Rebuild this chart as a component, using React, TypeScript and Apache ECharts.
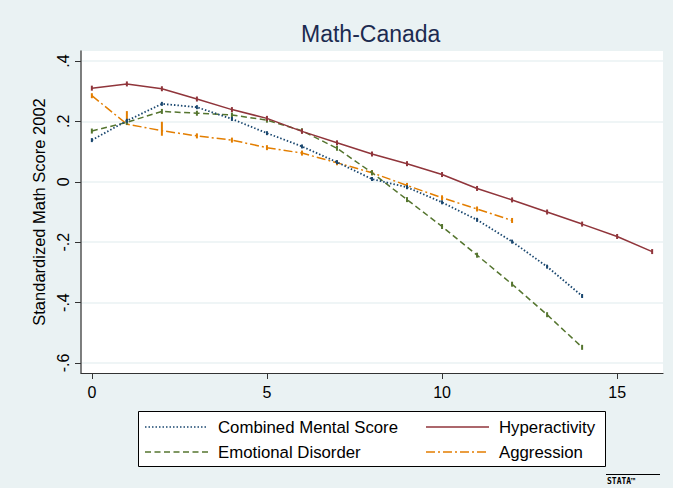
import React, { useEffect, useRef } from "react";
import * as echarts from "echarts";

const xValues = [0, 1, 2, 3, 4, 5, 6, 7, 8, 9, 10, 11, 12, 13, 14, 15, 16];
const combined = [0.138, 0.202, 0.258, 0.247, 0.208, 0.161, 0.117, 0.065, 0.009, -0.018, -0.068, -0.126, -0.198, -0.281, -0.378];
const hyperactivity = [0.31, 0.324, 0.308, 0.274, 0.239, 0.21, 0.167, 0.129, 0.092, 0.06, 0.024, -0.022, -0.06, -0.1, -0.14, -0.181, -0.231];
const emotional = [0.168, 0.197, 0.233, 0.227, 0.221, 0.204, 0.169, 0.111, 0.03, -0.059, -0.148, -0.243, -0.339, -0.44, -0.548];
const aggression = [0.285, 0.191, 0.169, 0.152, 0.138, 0.113, 0.095, 0.063, 0.03, -0.012, -0.053, -0.09, -0.128];

const xTicks = [0, 5, 10, 15];
const yTicks = [-0.6, -0.4, -0.2, 0, 0.2, 0.4];
const yTickLabels = ["-.6", "-.4", "-.2", "0", ".2", ".4"];
const seriesNames = ["Combined Mental Score", "Hyperactivity", "Emotional Disorder", "Aggression"];
const colors = ["#1a476f", "#90353b", "#55752f", "#e37e00"];
const dashes: any[] = [[1.5, 2], null, [6, 3.5], [9, 3, 2, 3]];

const FONT = "'Liberation Sans', Arial, sans-serif";

export default function App() {
  const ref = useRef<HTMLDivElement>(null);
  useEffect(() => {
    if (!ref.current) return;
    const chart = echarts.init(ref.current, undefined, { renderer: "svg" });
    const pairs = (arr: number[]) => arr.map((v, i) => [xValues[i], v]);
    const aggData: any[] = pairs(aggression).map((p, i) => {
      if (i === 1) return { value: p, symbolSize: [2, 14], symbolOffset: [0, -6] };
      if (i === 2) return { value: p, symbolSize: [2, 14], symbolOffset: [0, -2] };
      return p;
    });
    const datasets = [pairs(combined), pairs(hyperactivity), pairs(emotional), aggData];
    const series = seriesNames.map((name, k) => ({
      name,
      type: "line",
      data: datasets[k],
      symbol: "rect",
      symbolSize: k === 0 ? [2, 4] : [2, 5],
      showSymbol: true,
      itemStyle: { color: colors[k] },
      lineStyle: {
        color: colors[k],
        width: k === 0 ? 1.8 : 1.5,
        type: dashes[k] ? dashes[k] : "solid",
      },
      z: 10 - k,
    }));

    const legendX1 = 145, legendX2 = 426, lineLen = 63;
    const rowY = [427, 452];
    const legendEls: any[] = [
      {
        type: "rect",
        shape: { x: 138.5, y: 411.5, width: 467, height: 55 },
        style: { fill: "#ffffff", stroke: "#000000", lineWidth: 1 },
      },
    ];
    seriesNames.forEach((name, k) => {
      const col = k % 2;
      const row = Math.floor(k / 2);
      const lx = col === 0 ? legendX1 : legendX2;
      const y = rowY[row];
      legendEls.push({
        type: "line",
        shape: { x1: lx, y1: y, x2: lx + lineLen, y2: y },
        style: {
          stroke: colors[k],
          lineWidth: 1.5,
          lineDash: dashes[k] ? dashes[k] : undefined,
        },
      });
      legendEls.push({
        type: "text",
        x: lx + lineLen + 10,
        y,
        style: {
          text: name,
          fill: "#000000",
          font: `16.8px ${FONT}`,
          verticalAlign: "middle",
          textAlign: "left",
        },
      });
    });
    legendEls.push({
      type: "line",
      shape: { x1: 606, y1: 474.5, x2: 660, y2: 474.5 },
      style: { stroke: "#000", lineWidth: 1 },
    });
    legendEls.push({
      type: "text",
      x: 607,
      y: 481,
      style: {
        text: "STATA™",
        fill: "#000",
        font: `bold 8px 'DejaVu Sans Mono', monospace`,
        verticalAlign: "middle",
        textAlign: "left",
      },
    });

    chart.setOption({
      animation: false,
      backgroundColor: "#eaf2f3",
      textStyle: { fontFamily: FONT },
      title: {
        text: "Math-Canada",
        left: 301,
        top: 22,
        padding: 0,
        textStyle: { fontSize: 23, fontWeight: "normal", color: "#1c2b50", fontFamily: FONT },
      },
      grid: {
        left: 81,
        right: 10,
        top: 51,
        bottom: 115,
        show: true,
        backgroundColor: "#ffffff",
        borderWidth: 0,
      },
      xAxis: {
        type: "value",
        min: -0.31,
        max: 16.31,
        axisLine: { show: true, onZero: false, lineStyle: { color: "#333", width: 1.2 } },
        axisTick: { show: true, length: 6, customValues: xTicks, lineStyle: { color: "#333" } },
        axisLabel: { customValues: xTicks, fontSize: 16, color: "#000", margin: 11, fontFamily: FONT },
        splitLine: { show: false },
      },
      yAxis: {
        type: "value",
        min: -0.633,
        max: 0.433,
        name: "Standardized Math Score 2002",
        nameLocation: "middle",
        nameRotate: 90,
        nameGap: 28,
        nameTextStyle: { fontSize: 16.5, color: "#000", fontFamily: FONT },
        axisLine: { show: true, onZero: false, lineStyle: { color: "#555", width: 1.5 } },
        axisTick: { show: true, length: 6, customValues: yTicks, lineStyle: { color: "#333" } },
        axisLabel: {
          customValues: yTicks,
          rotate: 90,
          fontSize: 16,
          color: "#000",
          margin: 10,
          fontFamily: FONT,
          formatter: (v: number) => {
            const idx = yTicks.findIndex((t) => Math.abs(t - v) < 1e-6);
            return idx >= 0 ? yTickLabels[idx] : "";
          },
        },
        splitLine: { show: true, lineStyle: { color: "#eaf2f3", width: 1.5 } },
      },
      graphic: legendEls,
      series,
    });
    return () => chart.dispose();
  }, []);
  return (
    <div
      ref={ref}
      style={{ position: "fixed", left: 0, top: 0, width: 673, height: 488 }}
    />
  );
}
